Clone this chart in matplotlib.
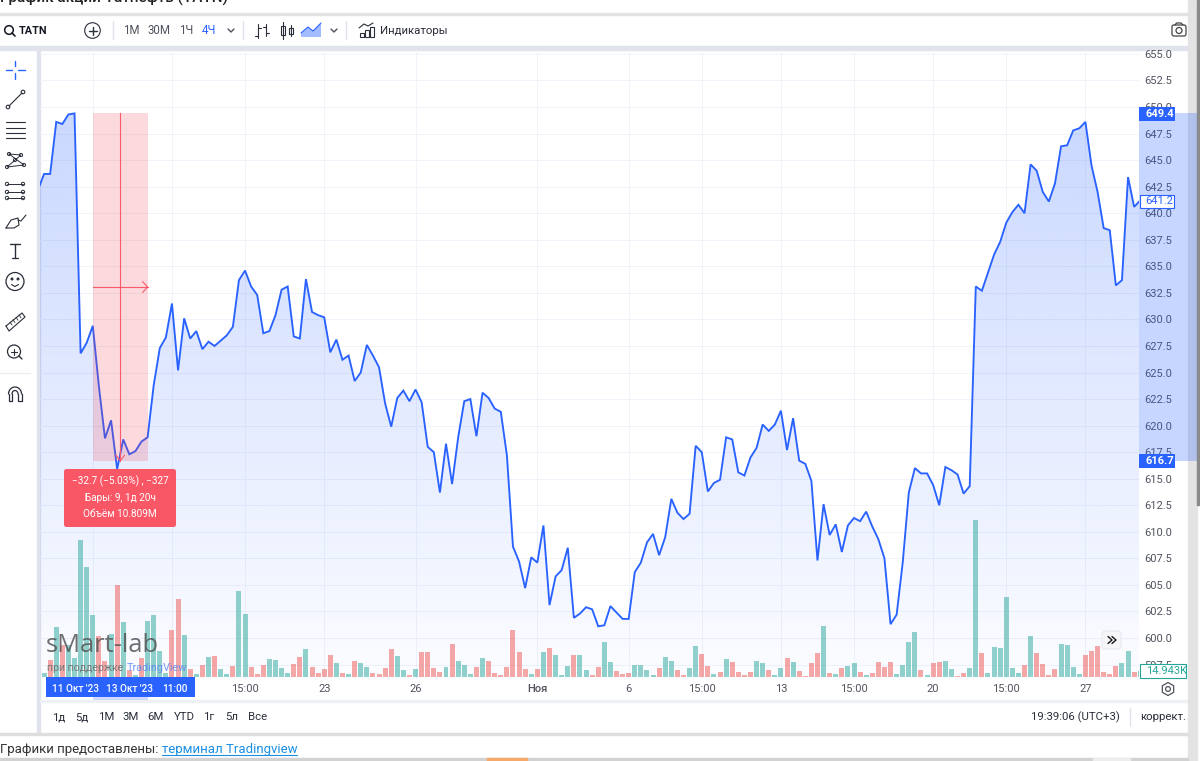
import numpy as np
import matplotlib
matplotlib.use("Agg")
import matplotlib.pyplot as plt
from matplotlib.patches import Rectangle, FancyBboxPatch, Circle, RegularPolygon

plt.rcParams['font.family'] = ['Roboto', 'DejaVu Sans']

W, H = 1200, 761

# closing price per 4h bar
prices = [
    642.2, 643.7, 643.7, 648.6, 648.4, 649.3, 649.4, 626.8, 627.8, 629.4,
    623.7, 618.8, 620.5, 615.9, 618.7, 617.3, 617.6, 618.5, 618.9, 623.8,
    627.3, 628.3, 631.5, 625.2, 630.1, 628.2, 628.9, 627.2, 627.9, 627.5,
    628.0, 628.5, 629.3, 633.7, 634.6, 633.1, 632.3, 628.7, 628.9, 630.4,
    632.8, 633.1, 628.4, 628.2, 633.8, 630.7, 630.4, 630.2, 626.9, 628.1,
    626.2, 626.6, 624.2, 625.0, 627.6, 626.6, 625.5, 622.1, 619.9, 622.6,
    623.3, 622.3, 623.4, 622.2, 618.0, 617.5, 613.7, 618.3, 614.5, 618.9,
    622.3, 622.5, 619.0, 623.1, 622.6, 621.6, 621.3, 617.2, 608.6, 607.2,
    604.7, 607.6, 607.1, 610.6, 603.1, 605.8, 606.4, 608.5, 601.9, 602.3,
    602.9, 602.7, 601.1, 601.2, 603.0, 602.4, 601.8, 601.8, 606.2, 607.1,
    609.0, 609.8, 607.8, 609.5, 613.1, 611.8, 611.2, 611.7, 618.1, 617.5,
    613.8, 614.6, 614.9, 618.9, 618.7, 615.6, 615.3, 617.0, 617.9, 620.1,
    619.5, 620.1, 621.4, 617.7, 620.7, 616.7, 616.4, 614.8, 607.3, 612.6,
    609.7, 610.7, 608.1, 610.6, 611.3, 611.0, 611.9, 610.5, 609.3, 607.5,
    601.3, 602.2, 607.1, 613.7, 616.0, 615.5, 615.5, 614.4, 612.5, 616.1,
    615.8, 615.4, 613.6, 614.3, 633.1, 632.7, 634.4, 636.1, 637.3, 639.1,
    640.1, 640.8, 640.0, 644.6, 644.0, 642.0, 641.1, 642.8, 646.3, 646.4,
    647.8, 648.0, 648.6, 644.5, 642.0, 638.6, 638.4, 633.2, 633.7, 643.4,
    640.6, 641.2,
]

# volume in thousands, same bars
volumes = [
    0, 10, 42.5, 125, 80, 80, 47.5, 342.5, 275, 155, 102.5, 40, 107.5, 230, 137.5,
    17.5, 5, 47.5, 140, 155, 65, 10, 117.5, 195, 105, 20, 7.5, 30, 50, 52.5,
    20, 7.5, 27.5, 215, 157.5, 25, 7.5, 30, 45, 42.5, 22.5, 10, 32.5, 50, 70,
    25, 10, 20, 55, 35, 10, 7.5, 40, 35, 25, 10, 7.5, 22.5, 70, 52.5,
    17.5, 5, 20, 62.5, 62.5, 22.5, 12.5, 25, 82.5, 40, 30, 7.5, 25, 47.5, 40,
    10, 5, 25, 117.5, 62.5, 20, 7.5, 20, 62.5, 72.5, 55, 5, 27.5, 55, 55,
    17.5, 5, 25, 87.5, 37.5, 15, 7.5, 10, 30, 30, 17.5, 5, 22.5, 50, 40,
    17.5, 5, 22.5, 77.5, 57.5, 27.5, 7.5, 12.5, 45, 37.5, 12.5, 5, 12.5, 40, 35,
    17.5, 5, 22.5, 47.5, 37.5, 15,
    2.5, 35, 60, 127.5, 10, 7.5, 22.5, 27.5, 35, 12.5, 5, 10, 37.5, 25, 37.5,
    7.5, 30, 87.5, 112.5, 17.5, 5, 35, 37.5, 40, 20, 2.5, 10, 22.5, 392.5, 60,
    10, 75, 72.5, 200, 22.5, 10, 30, 102.5, 60, 32.5, 5, 20, 82.5, 80, 25,
    7.5, 55, 65, 77.5, 12.5, 7.5, 27.5, 35, 65, 12.5, 14.9,
]
vol_dirs = list(
    "g" "grgrgggggr" "rgrgrgrggg" "grrgrgrgrg" "grggrrrggg" "grrgrrrrgr" "grggrrrrg"
    "grgrrrrgrg" "ggrgrrrrrr" "rgrgrgggrg" "grrggrrrgg" "ggrggrrggr" "rgrgrrrrgg" "rggrgr"
    "rrrgrgrggr" "grrrrggggr" "grrggrrggr" "ggggggrgrr" "rrggggrrrr" "rrggr" "g"
)

price_ticks = [597.5 + 2.5 * k for k in range(24)]
time_ticks = [9, 22, 34, 47, 62, 82, 97, 109, 122, 134, 147, 159, 172]
time_labels = ["", "", "15:00", "23", "26", "Ноя", "6", "15:00", "13", "15:00", "20", "15:00", "27"]

measure_start, measure_end = 9, 18
measure_top, measure_bottom = 649.4, 616.7
last_price = 641.2

BLUE = "#2962ff"
TXT = "#50535e"
DARK = "#131722"
BAND = "#e0e3eb"

fig = plt.figure(figsize=(W / 100, H / 100), dpi=100, facecolor="white")

# chrome behind the chart
back = fig.add_axes([0, 0, 1, 1], zorder=0)
back.set_xlim(0, W)
back.set_ylim(H, 0)
back.axis("off")
back.add_patch(Rectangle((0, 13), 1188, 2, color="#e2e2e2"))
back.add_patch(Rectangle((0, 46), 1188, 4, color=BAND))
back.add_patch(Rectangle((37, 50), 3, 683, color=BAND))
back.add_patch(Rectangle((0, 733), 1188, 1.5, color="#dedede"))
back.add_patch(Rectangle((40, 700), 1148, 2, color="#eef0f5"))
back.add_patch(Rectangle((1188, 0), 9, 761, color="#e3e3e3"))
back.add_patch(Rectangle((1197, 0), 3, 505, color="#8a8a8a"))
back.add_patch(Rectangle((0, 758), 1188, 3, color="#d2d2d2"))
back.add_patch(Rectangle((487, 758), 40, 3, color="#f5a96b"))
back.add_patch(Rectangle((1093, 758), 37, 3, color="#ededed"))

# price chart
left, right, top, bottom = 40, 1139, 50, 679
rect = [left / W, 1 - bottom / H, (right - left) / W, (bottom - top) / H]
ax = fig.add_axes(rect, zorder=1)
ax.patch.set_alpha(0)
x = np.arange(len(prices))
ylo, yhi = 596.14, 655.37
xlo, xhi = 0.33, 180.8

ax.grid(True, color="#f0f3fa", lw=0.72)
ax.set_axisbelow(True)

area = ax.fill_between(x, prices, ylo, color="none", lw=0)
grad = np.zeros((256, 1, 4))
grad[:, :, 0], grad[:, :, 1], grad[:, :, 2] = 0x29 / 255, 0x62 / 255, 1.0
grad[:, :, 3] = np.linspace(0.25, 0.015, 256)[:, None]
im = ax.imshow(grad, extent=[xlo, xhi, ylo, max(prices)], aspect="auto", zorder=1.6, origin="upper")
im.set_clip_path(area.get_paths()[0], transform=ax.transData)

ax.plot(x, prices, color=BLUE, lw=1.35, zorder=3, solid_joinstyle="miter")

# measure tool
mid_x = (measure_start + measure_end) / 2
mid_y = (measure_top + measure_bottom) / 2
ax.add_patch(Rectangle((measure_start, measure_bottom), measure_end - measure_start,
                       measure_top - measure_bottom, color="#f23645", alpha=0.19, lw=0, zorder=4))
ax.plot([mid_x, mid_x], [measure_bottom, measure_top], color="#f9596a", lw=0.8, zorder=5)
ax.plot([measure_start, measure_end], [mid_y, mid_y], color="#f9596a", lw=0.8, zorder=5)
ax.plot([measure_end - 0.8, measure_end, measure_end - 0.8], [mid_y + 0.5, mid_y, mid_y - 0.5],
        color="#f9596a", lw=0.8, zorder=5)
ax.plot([mid_x - 0.7, mid_x, mid_x + 0.7], [measure_bottom + 0.5, measure_bottom, measure_bottom + 0.5],
        color="#f9596a", lw=0.8, zorder=5)

# highlights on both scales
ytr = ax.get_yaxis_transform()
xtr = ax.get_xaxis_transform()
ax.add_patch(Rectangle((1, measure_bottom), 58 / (right - left), measure_top - measure_bottom,
                       transform=ytr, color=BLUE, alpha=0.26, lw=0, clip_on=False, zorder=1))
ax.add_patch(Rectangle((measure_start, -21 / (bottom - top)), measure_end - measure_start, 21 / (bottom - top),
                       transform=xtr, color=BLUE, alpha=0.22, lw=0, clip_on=False, zorder=1))

ax.set_xlim(xlo, xhi)
ax.set_ylim(ylo, yhi)
ax.yaxis.tick_right()
ax.set_yticks(price_ticks)
ax.set_yticklabels([f"{p:.1f}" for p in price_ticks])
ax.set_xticks(time_ticks)
ax.set_xticklabels(time_labels)
ax.tick_params(axis="y", length=0, pad=4, labelsize=8, labelcolor=TXT)
ax.tick_params(axis="x", length=0, pad=3.5, labelsize=8, labelcolor=TXT)
for lab, txt in zip(ax.get_xticklabels(), time_labels):
    if txt == "Ноя":
        lab.set_fontweight("medium")
for s in ax.spines.values():
    s.set_visible(False)

# volume bars, on top of the area
vax = fig.add_axes(rect, zorder=2, sharex=ax)
vax.patch.set_alpha(0)
vax.axis("off")
bar_colors = ["#26a69a" if d == "g" else "#ef5350" for d in vol_dirs]
vax.bar(x, volumes, width=0.82, color=bar_colors, alpha=0.5, lw=0)
vax.set_xlim(xlo, xhi)
vax.set_ylim(-5, 1567.5)

# overlay in pixel space
ui = fig.add_axes([0, 0, 1, 1], zorder=5)
ui.set_xlim(0, W)
ui.set_ylim(H, 0)
ui.axis("off")
ui.patch.set_alpha(0)


def label(px, py, s, size=8, color=TXT, ha="center", weight="normal", **kw):
    return ui.text(px, py, s, fontsize=size, color=color, ha=ha, va="center", fontweight=weight, **kw)


def icon(xs, ys, color="#2a2e39", lw=1):
    ui.plot(xs, ys, color=color, lw=lw, solid_capstyle="round")


# page text
ui.text(0, 3, "График акций Татнефть (TATN)", fontsize=11, color="#222", va="baseline", fontweight="medium", clip_on=True)
label(0, 749, "Графики предоставлены:", size=9.5, color="#333", ha="left")
label(162, 749, "терминал Tradingview", size=9.5, color="#1a8fe3", ha="left")
icon([162, 297], [754.5, 754.5], color="#1a8fe3", lw=0.8)

# toolbar
ui.add_patch(Circle((9, 30), 4.3, fill=False, ec=DARK, lw=1.1))
icon([12, 15], [33, 36], color=DARK, lw=1.2)
label(19, 30.5, "TATN", size=7.8, color=DARK, ha="left", weight="bold")
ui.add_patch(Circle((92.5, 30.5), 7.8, fill=False, ec="#2a2e39", lw=0.8))
icon([88.5, 96.5], [30.5, 30.5])
icon([92.5, 92.5], [26.5, 34.5])
for sx in [113, 243, 346]:
    icon([sx, sx], [21, 39], color=BAND, lw=1)
for cx, s, c in [(131, "1М", TXT), (159, "30М", TXT), (186, "1Ч", TXT), (209, "4Ч", BLUE)]:
    label(cx, 30.5, s, size=8.3, color=c)
for cx in [231, 334]:
    icon([cx - 3, cx, cx + 3], [29, 32, 29], color=TXT)
# bars / candles / area / indicators
icon([258, 258], [24, 38], lw=0.8)
icon([255, 258], [36, 36], lw=0.8)
icon([258, 261], [28, 28], lw=0.8)
icon([266, 266], [24, 36], lw=0.8)
icon([263, 266], [27, 27], lw=0.8)
icon([266, 269], [33, 33], lw=0.8)
icon([283, 283], [22, 39], lw=0.8)
ui.add_patch(Rectangle((281, 26), 4, 9, fc="white", ec="#2a2e39", lw=0.8))
icon([291, 291], [25, 36], lw=0.8)
ui.add_patch(Rectangle((289, 28), 4, 6, fc="white", ec="#2a2e39", lw=0.8))
ui.fill([301, 308, 313, 321, 321, 301], [33, 27, 31, 23, 37, 37], color="#a3bbff", lw=0)
icon([301, 308, 313, 321], [33, 27, 31, 23], color=BLUE, lw=0.8)
for bx, by in [(360, 33), (365, 30), (370, 27)]:
    ui.add_patch(Rectangle((bx, by), 3.5, 37 - by, fill=False, ec="#2a2e39", lw=0.8))
icon([359, 364, 368, 373], [28, 24, 26, 23], lw=0.8)
label(380, 30.5, "Индикаторы", size=8.2, color="#2a2e39", ha="left")
ui.add_patch(FancyBboxPatch((1172, 25), 14, 11, boxstyle="round,pad=0,rounding_size=2", fill=False, ec="#444", lw=0.9))
ui.add_patch(Circle((1179, 30.5), 3, fill=False, ec="#444", lw=0.9))
icon([1175, 1176.5, 1181, 1183], [25, 23, 23, 25], color="#444", lw=0.9)

# left tool panel
icon([6, 12], [70, 70], color=BLUE)
icon([18, 25], [70, 70], color=BLUE)
icon([15, 15], [61, 66], color=BLUE)
icon([15, 15], [73, 79], color=BLUE)
ui.add_patch(Circle((8, 107), 1.8, fill=False, ec="#2a2e39", lw=0.8))
ui.add_patch(Circle((23, 92), 1.8, fill=False, ec="#2a2e39", lw=0.8))
icon([9, 22], [106, 93], lw=0.8)
for yy in [122, 128, 133, 138]:
    icon([6, 25], [yy, yy], lw=0.8)
for px, py in [(9, 154), (21, 155), (7, 167), (24, 165), (15, 160)]:
    ui.add_patch(Circle((px, py), 1.6, fill=False, ec="#2a2e39", lw=0.7))
icon([9, 21, 7, 24, 9], [154, 155, 167, 165, 154], lw=0.7)
for yy in [184, 192, 198]:
    icon([7, 23], [yy, yy], lw=0.7)
    ui.add_patch(Circle((7, yy), 1.7, fc="white", ec="#2a2e39", lw=0.7))
    ui.add_patch(Circle((23, yy), 1.7, fc="white", ec="#2a2e39", lw=0.7))
icon([6, 11, 18, 19, 14, 6], [228, 220, 218, 225, 228, 228], lw=0.8)
icon([18, 21, 26], [220, 221, 215], lw=0.8)
icon([10, 20], [244, 244], lw=1)
icon([15, 15], [244, 258], lw=1)
icon([12, 18], [258, 258], lw=0.9)
ui.add_patch(Circle((15, 281.5), 9, fill=False, ec="#2a2e39", lw=0.9))
ui.add_patch(Circle((12, 279), 0.8, color="#2a2e39"))
ui.add_patch(Circle((18, 279), 0.8, color="#2a2e39"))
icon([11.5, 15, 18.5], [284.5, 286.5, 284.5], lw=0.8)
icon([6, 22, 25, 9, 6], [326, 313, 317, 331, 326], lw=0.8)
for k in range(4):
    icon([10 + k * 3, 12 + k * 3], [322 - k * 2.4, 325 - k * 2.4], lw=0.6)
icon([0, 30], [373, 373], color="#eceef2", lw=1)
ui.add_patch(Circle((14, 351.5), 6.5, fill=False, ec="#2a2e39", lw=0.9))
icon([19, 22], [356, 359], lw=1)
icon([11, 17], [351.5, 351.5], lw=0.8)
icon([14, 14], [348.5, 354.5], lw=0.8)
theta = np.linspace(np.pi, 2 * np.pi, 30)
icon(15 + 6.5 * np.cos(theta), 394 + 7 * np.sin(theta), lw=0.9)
icon(15 + 3 * np.cos(theta), 394 + 3.5 * np.sin(theta), lw=0.9)
icon([8.5, 8.5, 12, 12], [394, 401, 401, 394], lw=0.9)
icon([18, 18, 21.5, 21.5], [394, 401, 401, 394], lw=0.9)

# range buttons, clock
for cx, s in [(59, "1д"), (82, "5д"), (106, "1М"), (131, "3М"), (155, "6М"), (184, "YTD"), (209, "1г"), (232, "5л"), (258, "Все")]:
    label(cx, 717.5, s, size=8.2, color="#2a2e39")
label(1031, 717.5, "19:39:06 (UTC+3)", size=8.2, color="#2a2e39", ha="left")
icon([1130, 1130], [708, 726], color="#e0e3eb")
label(1140, 717.5, "коррект.", size=8.2, color="#2a2e39", ha="left")

# watermark
label(46, 645, "sMart-lab", size=18.4, color="#555555", ha="left", alpha=0.85, family="Open Sans")
label(47, 668, "при поддержке", size=7.6, color="#777777", ha="left")
label(127, 668, "TradingView", size=7.8, color="#5e86f5", ha="left", alpha=0.85)

# crosshair label on the time scale
ui.add_patch(Rectangle((46, 677), 149, 20, color=BLUE, lw=0))
for cx, s in [(76, "11 Окт '23"), (130, "13 Окт '23"), (175, "11:00")]:
    label(cx, 689, s, size=7.2, color="white", weight="medium")

# measure tooltip
ui.add_patch(FancyBboxPatch((64, 469), 112, 58, boxstyle="round,pad=0,rounding_size=2.5", color="#f95766", lw=0))
label(120, 481, "−32.7 (−5.03%) , −327", size=7.2, color="white")
label(120, 498, "Бары: 9, 1д 20ч", size=7.2, color="white")
label(120, 514, "Объём 10.809M", size=7.2, color="white")

# scale labels
for py, val in [(114, measure_top), (461, measure_bottom)]:
    ui.add_patch(Rectangle((1139, py - 7), 35.5, 14, color=BLUE, lw=0))
    label(1145, py, f"{val:.1f}", color="white", ha="left", weight="bold")
ui.add_patch(Rectangle((1139.5, 194.5), 34.5, 13, fc="white", ec=BLUE, lw=0.8))
label(1145, 201, f"{last_price:.1f}", color=BLUE, ha="left")
ui.add_patch(Rectangle((1139.5, 664), 46, 14, fc="white", ec="#26a69a", lw=0.8))
label(1146, 671, "14.943K", color="#26a69a", ha="left")

# scroll button and settings hexagon
ui.add_patch(FancyBboxPatch((1102, 631), 19, 18, boxstyle="round,pad=0,rounding_size=3", fc="#f6f6f8", ec="#e9e9ee", lw=0.8))
icon([1108, 1112, 1108], [636.5, 640, 643.5], color=DARK, lw=1)
icon([1112, 1116, 1112], [636.5, 640, 643.5], color=DARK, lw=1)
ui.add_patch(RegularPolygon((1168, 689), 6, radius=6.5, fill=False, ec=TXT, lw=0.9))
ui.add_patch(Circle((1168, 689), 2.4, fill=False, ec=TXT, lw=0.9))

fig.savefig("out.png", dpi=100)
